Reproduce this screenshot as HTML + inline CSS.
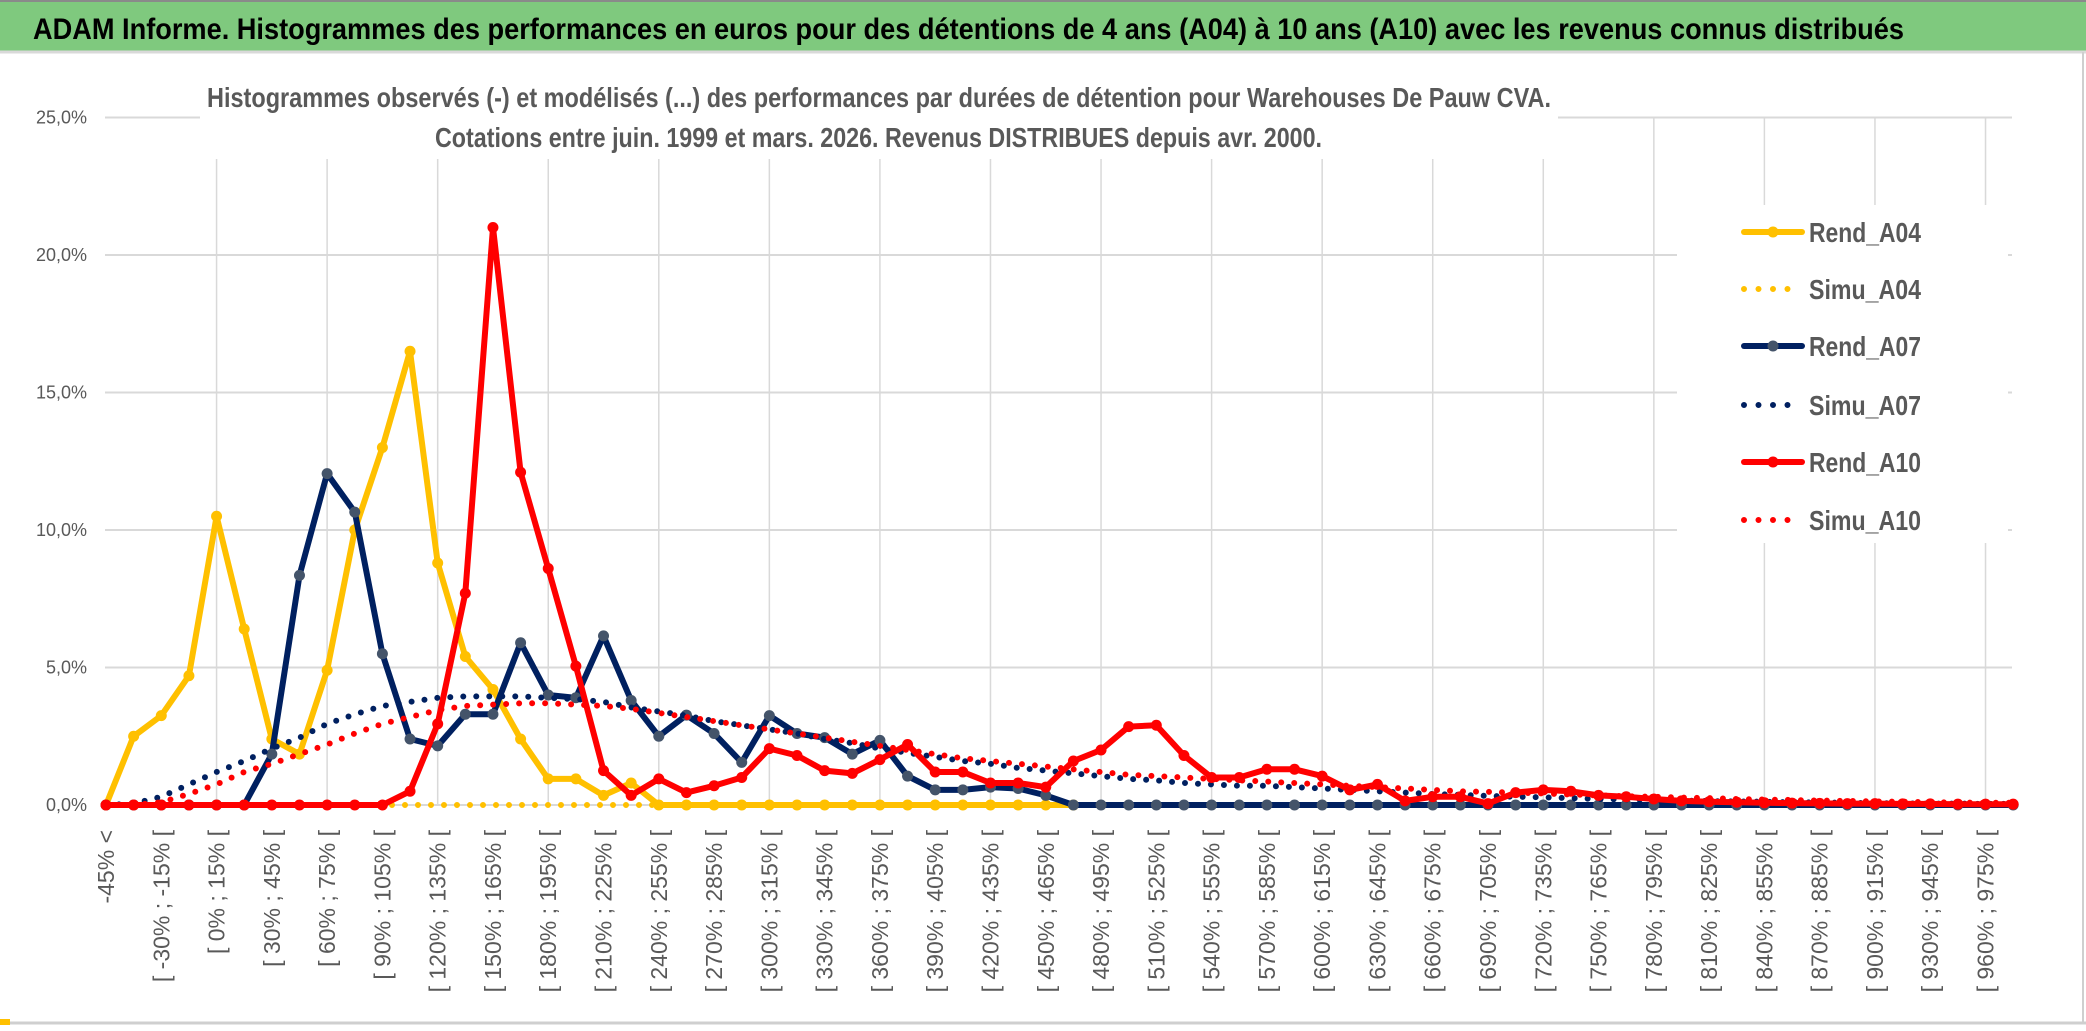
<!DOCTYPE html>
<html><head><meta charset="utf-8"><style>
html,body{margin:0;padding:0;background:#fff;}
svg{display:block;}
text{font-family:"Liberation Sans",sans-serif;}
</style></head><body>
<svg id="chart" width="2086" height="1031" viewBox="0 0 2086 1031">
<rect x="0" y="0" width="2086" height="1031" fill="#fff"/>
<rect x="0" y="0" width="2086" height="51" fill="#7fc97e"/>
<line x1="0" y1="1" x2="2086" y2="1" stroke="#8a8a8a" stroke-width="2"/>
<line x1="0" y1="52" x2="2086" y2="52" stroke="#d9d9d9" stroke-width="3"/>
<text x="33" y="39" font-size="30" font-weight="bold" fill="#000" textLength="1871" lengthAdjust="spacingAndGlyphs">ADAM Informe. Histogrammes des performances en euros pour des détentions de 4 ans (A04) à 10 ans (A10) avec les revenus connus distribués</text>
<line x1="2083" y1="52" x2="2083" y2="1024" stroke="#cfcfcf" stroke-width="2"/>
<line x1="0" y1="1023" x2="2086" y2="1023" stroke="#cfcfcf" stroke-width="3"/>
<rect x="0" y="1019" width="10" height="6" fill="#ffc000"/>
<g id="grid"></g>
<rect x="200" y="60" width="1358" height="99" fill="#fff"/>
<text x="207" y="107" font-size="28" font-weight="bold" fill="#595959" textLength="1344" lengthAdjust="spacingAndGlyphs">Histogrammes observés (-) et modélisés (...) des performances par durées de détention pour Warehouses De Pauw CVA.</text>
<text x="435" y="147" font-size="28" font-weight="bold" fill="#595959" textLength="887" lengthAdjust="spacingAndGlyphs">Cotations entre juin. 1999 et mars. 2026. Revenus DISTRIBUES depuis avr. 2000.</text>
<g id="yaxis"></g>
<g id="xaxis"></g>
<g id="series"></g>
<g id="legend"></g>
</svg>
<script>
const categoryStarts = [];
for (let s = -45; s <= 960; s += 15) categoryStarts.push(s);
const yTicks = [0, 5, 10, 15, 20, 25];
const yTickLabels = ["0,0%", "5,0%", "10,0%", "15,0%", "20,0%", "25,0%"];
const rendA04 = [0,2.5,3.25,4.7,10.5,6.4,2.4,1.85,4.9,10.0,13.0,16.5,8.8,5.4,4.2,2.4,0.95,0.95,0.35,0.8,0,0,0,0,0,0,0,0,0,0,0,0,0,0,0,0];
const simuA04 = [0,0,0,0,0,0,0,0,0,0,0,0,0,0,0,0,0,0,0,0,0,0,0,0,0,0,0,0,0,0,0,0,0,0,0,0];
const rendA07 = [0,0,0,0,0,0,1.85,8.35,12.05,10.65,5.5,2.4,2.15,3.3,3.3,5.9,4.0,3.9,6.15,3.8,2.5,3.27,2.6,1.55,3.25,2.6,2.45,1.85,2.35,1.05,0.55,0.55,0.65,0.6,0.35,0,0,0,0,0,0,0,0,0,0,0,0,0,0,0,0,0,0,0,0,0,0,0,0,0,0,0,0,0,0,0,0,0,0,0];
const simuA07 = [0,0.05,0.3,0.75,1.2,1.6,2.05,2.45,2.95,3.3,3.6,3.75,3.9,3.95,3.95,3.95,3.9,3.85,3.75,3.55,3.4,3.25,3.05,2.9,2.75,2.6,2.4,2.25,2.05,1.9,1.75,1.6,1.5,1.35,1.25,1.15,1.05,0.95,0.9,0.8,0.75,0.7,0.7,0.65,0.6,0.55,0.5,0.45,0.4,0.37,0.33,0.3,0.28,0.25,0.22,0.2,0.18,0.16,0.14,0.13,0.12,0.1,0.09,0.08,0.07,0.06,0.05,0.05,0.04,0.04];
const rendA10 = [0,0,0,0,0,0,0,0,0,0,0,0.5,2.95,7.7,21.0,12.1,8.6,5.05,1.25,0.35,0.95,0.45,0.7,1.0,2.05,1.8,1.25,1.15,1.65,2.2,1.2,1.2,0.8,0.8,0.65,1.6,2.0,2.85,2.9,1.8,1.0,1.0,1.3,1.3,1.05,0.55,0.75,0.15,0.3,0.3,0.05,0.45,0.55,0.5,0.35,0.3,0.22,0.15,0.12,0.1,0.08,0.07,0.06,0.05,0.05,0.04,0.04,0.03,0.03,0.03];
const simuA10 = [0,0,0.1,0.4,0.75,1.2,1.5,1.85,2.2,2.6,2.95,3.2,3.45,3.6,3.65,3.7,3.7,3.65,3.6,3.5,3.35,3.2,3.05,2.9,2.75,2.6,2.45,2.3,2.15,2.0,1.85,1.7,1.6,1.5,1.4,1.3,1.2,1.1,1.05,1.0,0.95,0.9,0.85,0.8,0.75,0.7,0.65,0.6,0.55,0.5,0.48,0.45,0.42,0.38,0.35,0.32,0.3,0.27,0.25,0.22,0.2,0.18,0.16,0.15,0.13,0.12,0.1,0.09,0.08,0.08];

const NS = "http://www.w3.org/2000/svg";
const X0 = 106, DX = 27.64, Y0 = 805, PXPER = 27.5, XR = 2012;
function xPos(i){ return X0 + DX * i; }
function yPos(v){ return Y0 - v * PXPER; }
function mk(tag, attrs, parent){ const e = document.createElementNS(NS, tag); for (const k in attrs) e.setAttribute(k, attrs[k]); parent.appendChild(e); return e; }

function catLabel(i){
  if (i === 0) return "-45% <";
  const s = categoryStarts[i - 1];
  return "[ " + s + "% ; " + (s + 15) + "% [";
}
const nCats = categoryStarts.length + 2;

const grid = document.getElementById('grid');
yTicks.forEach((t) => {
  const l = mk('line', {x1: 105, x2: XR, y1: yPos(t), y2: yPos(t), stroke: '#d9d9d9', 'stroke-width': 2}, grid);
  
  
});
for (let i = 4; i < nCats; i += 4) {
  const l = mk('line', {x1: xPos(i), x2: xPos(i), y1: yPos(25), y2: Y0, stroke: '#d9d9d9', 'stroke-width': 1.5}, grid);
  
  
}

const yaxis = document.getElementById('yaxis');
yTicks.forEach((t, k) => {
  const tx = mk('text', {x: 87, y: yPos(t) + 6, 'font-size': 18, fill: '#595959', 'text-anchor': 'end'}, yaxis);
  tx.textContent = yTickLabels[k];
  
  
});

const xaxis = document.getElementById('xaxis');
for (let i = 0; i < nCats - 1; i += 2) {
  const x = xPos(i) + 8;
  const tx = mk('text', {x: 0, y: 0, 'font-size': 23, fill: '#595959', 'text-anchor': 'end', transform: 'translate(' + x + ',830) rotate(-90)'}, xaxis);
  tx.textContent = catLabel(i);
  
  
}

const series = document.getElementById('series');
function pathFor(arr){ return arr.map((v, i) => (i ? 'L' : 'M') + xPos(i).toFixed(1) + ' ' + yPos(v).toFixed(1)).join(' '); }
function solid(arr, color, mcolor, name){
  const g = mk('g', {}, series);
  
  
  const p = mk('path', {d: pathFor(arr), fill: 'none', stroke: color, 'stroke-width': 6, 'stroke-linejoin': 'round', 'stroke-linecap': 'round'}, g);
  
  
  arr.forEach((v, i) => {
    const c = mk('circle', {cx: xPos(i), cy: yPos(v), r: 5.5, fill: mcolor}, g);
    
    
  });
}
function dotted(arr, color, name){
  const p = mk('path', {d: pathFor(arr), fill: 'none', stroke: color, 'stroke-width': 6, 'stroke-dasharray': '0 13', 'stroke-linecap': 'round'}, series);
  
  
}
solid(rendA04, '#ffc000', '#ffc000', 'rend-a04');
dotted(simuA04, '#ffc000', 'simu-a04');
solid(rendA07, '#002060', '#44546a', 'rend-a07');
dotted(simuA07, '#002060', 'simu-a07');
solid(rendA10, '#ff0000', '#ff0000', 'rend-a10');
dotted(simuA10, '#ff0000', 'simu-a10');

const legend = document.getElementById('legend');
const lbg = mk('rect', {x: 1677, y: 205, width: 331, height: 338, fill: '#fff'}, legend);


const legendNames = ['Rend_A04','Simu_A04','Rend_A07','Simu_A07','Rend_A10','Simu_A10'];
const legendColors = ['#ffc000','#ffc000','#002060','#002060','#ff0000','#ff0000'];
const legendMarkers = ['#ffc000',null,'#44546a',null,'#ff0000',null];
const legendY = [232, 289, 346, 405, 462, 520];
legendNames.forEach((n, k) => {
  const g = mk('g', {}, legend);
  
  
  const y = legendY[k];
  if (legendMarkers[k]) {
    mk('line', {x1: 1744, x2: 1802, y1: y, y2: y, stroke: legendColors[k], 'stroke-width': 6, 'stroke-linecap': 'round'}, g);
    mk('circle', {cx: 1773, cy: y, r: 5.5, fill: legendMarkers[k]}, g);
  } else {
    mk('line', {x1: 1744, x2: k === 5 ? 1802 : 1792, y1: y, y2: y, stroke: legendColors[k], 'stroke-width': 6, 'stroke-dasharray': '0 14.5', 'stroke-linecap': 'round'}, g);
  }
  const t = mk('text', {x: 1809, y: y + 10, 'font-size': 28, 'font-weight': 'bold', fill: '#595959', textLength: 112, lengthAdjust: 'spacingAndGlyphs'}, g);
  t.textContent = n;
});
</script>
</body></html>
